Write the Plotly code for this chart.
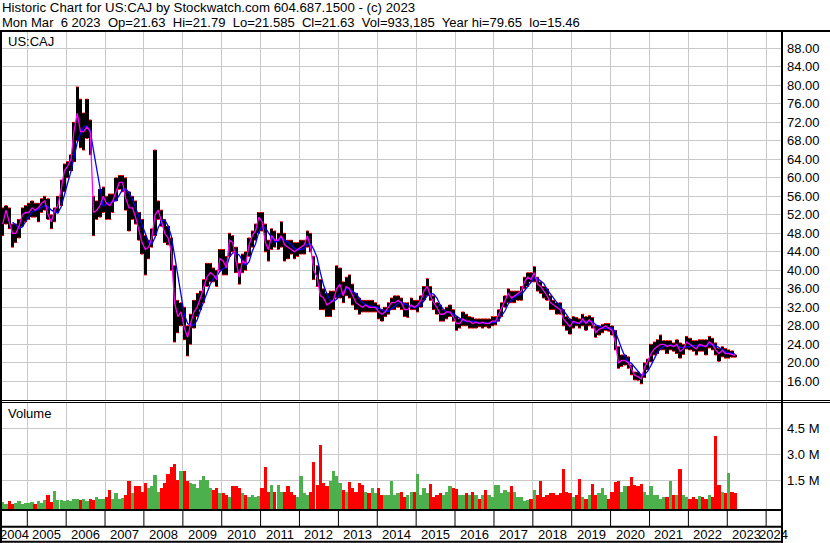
import pandas as pd
import plotly.graph_objects as go

# ---------------- data (monthly, May 2004 .. Mar 2023) ----------------
start_month = "2004-05-01"
end_month = "2023-03-01"

high = [
    53.5, 54, 53.5, 50, 50, 51, 53.5, 54,                               # 2004 May-Dec
    54.5, 55, 54.5, 54.5, 55.5, 56, 55.5, 52, 53.5, 56, 59.5, 63,        # 2005
    63.5, 65, 72, 79.65, 77, 74, 77, 72.5, 56, 55, 57.5, 58,             # 2006
    56, 56.5, 56.5, 60, 60.5, 60.5, 60, 57, 56, 55, 52.5, 51,            # 2007
    47.5, 46.5, 49, 66, 55, 53, 51, 49.5, 47, 41, 33.5, 33,              # 2008
    32, 28, 30.5, 33.5, 35, 35.5, 38, 41.5, 41.5, 40.5, 40, 44.5,        # 2009
    44.5, 43, 48, 47.5, 45, 41.5, 43.5, 44, 47, 48.5, 50, 52.5,          # 2010
    52.5, 50, 46.5, 49, 48.5, 48, 50.5, 48, 46.5, 46.5, 46, 46,          # 2011
    46.5, 46.5, 48.5, 48, 43, 41, 38, 36, 35, 35.5, 35.5, 41,            # 2012
    40.5, 37.5, 38.5, 39, 37, 35, 34, 33.5, 33.5, 33.5, 33.5, 33,        # 2013
    32.5, 31.5, 32, 33, 34, 34.5, 34.5, 34, 33, 33, 34, 33.5,            # 2014
    33.5, 34.5, 36.5, 38.2, 36.5, 34.5, 33, 32.5, 31.5, 32, 32.5, 31.5,  # 2015
    30, 29.5, 31, 30.5, 30, 29.8, 29.5, 29.5, 29.5, 29.5, 29.5, 30,      # 2016
    30, 31.5, 33, 34.5, 36, 35.5, 35.5, 35.5, 36.5, 38.5, 39.5, 39.5,    # 2017
    40.8, 38.5, 37.5, 36.5, 36, 34.5, 33.5, 33, 33, 31.5, 30, 29.5,      # 2018
    30, 29.8, 29.5, 30.5, 30, 30.2, 29.8, 28, 28, 28.3, 28.5, 28.5,      # 2019
    28, 27, 23.5, 21.7, 21.7, 21.3, 19.5, 18, 18, 17.5, 20, 20.8,        # 2020
    24, 24.5, 25, 26, 24.8, 24.8, 24.8, 24.3, 25, 24.3, 24, 25.7,        # 2021
    25.3, 24.8, 24.8, 25, 25, 25, 25.7, 25.3, 24.3, 23.1, 23.5, 23.1,    # 2022
    22.8, 22.6, 21.79,                                                   # 2023 Jan-Mar
]

low = [
    47.5, 50, 49, 45, 46, 47, 49.5, 50.5,
    51, 51.5, 51.5, 50.5, 52.5, 53, 51, 49, 50.5, 52.5, 54, 57,
    60, 61.5, 63.5, 68, 66.5, 66, 68.5, 65, 47.5, 51, 51.5, 52.5,
    51, 51, 52.5, 55, 57.5, 57, 53, 48.5, 51, 50, 46.5, 43.5,
    39, 42.5, 45, 47.5, 51, 49.5, 46, 45.5, 40, 24.5, 26.5, 28,
    25, 21.5, 24, 27.5, 30, 31.5, 33, 36.5, 37.5, 37.5, 36.5, 40,
    39, 39, 43, 44, 39.5, 37, 39.5, 40, 43, 45, 46.5, 48,
    48.5, 44, 42, 44.5, 45, 44.5, 45, 42, 42.5, 43.5, 42.5, 43,
    43.5, 43.5, 45, 44, 38, 36.5, 31.5, 31.5, 30, 30, 31.5, 34,
    34, 33, 34.5, 34, 32.5, 31.5, 30.5, 31, 31, 31, 31, 31,
    29.5, 29, 30, 30.5, 31.5, 31.5, 32, 31.5, 30, 29.8, 31.5, 31.5,
    31, 32, 33.5, 34.5, 33.5, 31.5, 30.5, 29, 29, 29.5, 30, 29,
    27, 27.5, 28, 28, 27.5, 27.5, 27.5, 27.8, 27.5, 27.8, 27.5, 28,
    28.2, 29, 30, 32, 33, 33, 33, 33.5, 33.5, 36, 36.5, 37.5,
    37.5, 35.5, 35, 34, 33.5, 31.5, 31.5, 30.5, 30.5, 28, 27, 26.2,
    27.5, 28, 27.5, 28, 27, 28, 27.5, 25.5, 26, 26.5, 27, 26.8,
    26, 22.8, 18.8, 19.2, 19.5, 18.8, 17.4, 16.3, 16.2, 15.46, 16.8, 18.5,
    20.2, 21.7, 22, 22.8, 22.8, 22, 22.8, 22.5, 22, 21, 21.8, 23,
    22.8, 22.5, 21.7, 22.5, 22.5, 21.7, 23.2, 22.8, 21.7, 20.3, 21.3, 21,
    21, 21.2, 21.2,
]

close = [
    50, 53, 50.5, 48, 48, 49.5, 52, 52.5,
    52.5, 53.5, 53, 53.5, 54.5, 55, 52, 50.5, 53, 54, 57.5, 61.5,
    62.5, 64, 70, 74, 70, 70, 71, 70, 52.5, 53, 54, 56,
    54.5, 54, 55, 57, 59, 59, 55.5, 53.5, 53.5, 51.5, 48.5, 46,
    44.5, 45, 47, 52, 53, 50.5, 48, 47, 44, 33, 30, 31,
    27.5, 25.5, 28.5, 31, 32, 34, 36, 38.5, 39.5, 39, 38, 42.5,
    42, 40.5, 46.5, 46, 42, 38.5, 42, 41.5, 45.5, 47.5, 48.5, 51.5,
    50.5, 46, 44.5, 47.5, 46.5, 46.5, 47.5, 45.5, 45, 44.5, 44, 44.5,
    45, 45.5, 47.5, 45, 40, 38.5, 34.5, 34, 32.5, 33, 33.5, 36,
    37, 34.5, 36.5, 36, 34.5, 33, 32.5, 32, 32.5, 32, 32, 32,
    31, 30.5, 31, 32, 33, 33, 33.5, 33, 31.5, 31.5, 32.5, 32,
    32.5, 33.5, 35.5, 36.5, 34.5, 33, 32, 30.5, 30.5, 31, 31, 30,
    28.5, 28.5, 29.5, 29, 29, 28.5, 28.8, 28.5, 28.8, 28.5, 28.5, 29,
    29, 30.5, 32, 33.5, 35, 34, 34.5, 35, 35.5, 37.5, 38.5, 38,
    39.5, 37, 36.5, 35.5, 34.5, 33, 32.5, 32, 31.5, 29.5, 28.5, 27.8,
    29, 28.8, 28.5, 29.5, 28.5, 29.3, 28.5, 26.5, 27.3, 27.5, 28, 27.5,
    27, 24.5, 20, 20.5, 20.5, 20, 18.5, 17.3, 17, 16.5, 19, 20.3,
    22, 23, 23.5, 24, 24, 23.5, 23.8, 23.5, 24, 22.5, 23, 24.5,
    24, 23.5, 23, 24, 23.8, 23.5, 24.5, 24, 22.8, 22, 22.7, 22,
    22, 21.8, 21.63,
]

# volume in millions, as drawn (bars rise from the panel floor)
volume_m = [
    0.4, 0.3, 0.45, 0.3, 0.35, 0.45, 0.3, 0.35,
    0.35, 0.4, 0.3, 0.45, 0.35, 0.5, 0.8, 0.4, 1.05, 0.5, 0.5, 0.45,
    0.5, 0.45, 0.55, 0.6, 0.5, 0.55, 0.45, 0.6, 0.5, 0.7, 0.55, 0.6,
    0.7, 1.1, 0.6, 0.9, 0.55, 0.65, 0.8, 1.6, 0.9, 1.35, 1.3, 1.0,
    1.5, 1.2, 1.3, 1.95, 1.0, 1.2, 1.5, 2.0, 2.45, 2.6, 1.7, 2.2,
    2.2, 1.6, 1.5, 1.45, 1.2, 1.7, 1.9, 1.7, 1.2, 1.1, 1.2, 0.9,
    0.9, 0.8, 0.7, 1.35, 1.3, 1.2, 0.9, 0.8, 0.7, 0.8, 0.7, 0.75,
    1.2, 2.4, 1.0, 1.4, 1.0, 1.4, 1.0, 1.0, 1.3, 1.0, 0.8, 0.7,
    1.9, 0.9, 0.8, 1.0, 2.7, 1.4, 3.7, 1.5, 1.3, 1.6, 2.2, 1.9,
    1.5, 1.1, 1.0, 1.55, 1.2, 1.0, 1.5, 1.4, 1.0, 0.9, 1.2, 0.9,
    1.2, 0.8, 0.8, 0.8, 1.6, 0.8, 0.9, 1.0, 0.7, 0.8, 1.0, 1.0,
    2.0, 0.8, 1.2, 0.9, 1.45, 0.7, 0.8, 0.9, 0.8, 1.0, 1.35, 1.2,
    1.15, 0.8, 0.8, 0.95, 0.8, 1.0, 0.8, 0.6, 0.8, 1.1, 0.8, 0.7,
    1.37, 1.4, 0.9, 1.1, 1.0, 1.35, 1.0, 0.7, 0.7, 0.45, 0.5, 0.6,
    1.1, 0.8, 1.6, 0.7, 0.8, 0.9, 0.9, 0.8, 0.9, 2.3, 1.0, 0.9,
    0.7, 0.8, 1.75, 0.7, 0.6, 0.8, 1.45, 0.8, 0.9, 1.2, 0.8, 0.6,
    1.0, 1.55, 1.6, 1.0, 1.3, 1.3, 1.85, 1.4, 1.3, 1.45, 1.0, 0.8,
    1.3, 0.8, 0.8, 0.6, 0.7, 0.7, 1.6, 0.8, 0.8, 2.3, 0.8, 0.7,
    0.6, 0.7, 0.6, 0.75, 0.7, 0.6, 0.8, 0.7, 4.2, 1.4, 1.0, 0.9,
    2.1, 1.0, 0.93,
]

price_ticks = [16, 20, 24, 28, 32, 36, 40, 44, 48, 52, 56, 60, 64, 68, 72, 76, 80, 84, 88]
vol_ticks = [1.5, 3.0, 4.5]
vol_tick_text = ["1.5 M", "3.0 M", "4.5 M"]
years = list(range(2004, 2025))

title_line1 = "Historic Chart for US:CAJ by Stockwatch.com 604.687.1500 - (c) 2023"
title_line2 = ("Mon Mar  6 2023  Op=21.63  Hi=21.79  Lo=21.585  Cl=21.63  "
               "Vol=933,185  Year hi=79.65  lo=15.46")
symbol = "US:CAJ"

# ---------------- derived ----------------
months = pd.date_range(start_month, end_month, freq="MS")
mid = months + pd.Timedelta(days=14)
df = pd.DataFrame({"hi": high, "lo": low, "c": close, "v": volume_m}, index=mid)
ma_fast = df["c"]
ma_slow = df["c"].rolling(4).mean()
up = df["c"].diff().fillna(0) >= 0
vol_colors = ["#4cb04c" if u else "#ff0000" for u in up]

# ---------------- geometry (pixels) ----------------
W, H = 830, 543
L, R, T, B = 2, 781, 32, 509          # plot area
PX_PER_DAY = 38.89 / 365.25
ref_day = pd.Timestamp("2005-01-01")
ref_x = 27.3
x_left = ref_day - pd.Timedelta(days=(ref_x - L) / PX_PER_DAY)
x_right = ref_day + pd.Timedelta(days=(R - ref_x) / PX_PER_DAY)

def pxx(x):
    return (x - L) / (R - L)

def pxy(y):
    return (B - y) / (B - T)

def price_at(y):
    return 16 + (381.3 - y) / 4.625

def vol_at(y):
    return (506.3 - y) / 26.0 * 1.5

vol_floor = vol_at(B)
month_ms = 30.4 * 24 * 3600 * 1000
FONT = "Arial, Liberation Sans, sans-serif"

fig = go.Figure()
fig.add_trace(go.Bar(x=df.index, y=df["hi"] - df["lo"], base=df["lo"], width=month_ms,
                     marker=dict(color="#000000", line=dict(width=0)), yaxis="y",
                     hoverinfo="skip", showlegend=False))
fig.add_trace(go.Scatter(x=list(df.index) * 2, y=list(df["hi"]) + list(df["lo"]), mode="markers",
                         marker=dict(symbol="line-ew", size=2, line=dict(color="#ff0000", width=1)),
                         yaxis="y", hoverinfo="skip", showlegend=False))
fig.add_trace(go.Scatter(x=df.index, y=ma_slow, mode="lines", line=dict(color="#0000ff", width=1.3),
                         yaxis="y", hoverinfo="skip", showlegend=False))
fig.add_trace(go.Scatter(x=df.index, y=ma_fast, mode="lines", line=dict(color="#ff00ff", width=1.3),
                         yaxis="y", hoverinfo="skip", showlegend=False))
fig.add_trace(go.Bar(x=df.index, y=df["v"], base=vol_floor, width=month_ms,
                     marker=dict(color=vol_colors, line=dict(width=0)), yaxis="y2",
                     hoverinfo="skip", showlegend=False))

grid = "#c8c8c8"
fig.update_layout(
    width=W, height=H, margin=dict(l=L, r=W - R, t=T, b=H - B),
    paper_bgcolor="white", plot_bgcolor="white", barmode="overlay", bargap=0,
    font=dict(family=FONT, size=13, color="#000000"),
    xaxis=dict(type="date", range=[x_left, x_right], showgrid=True, gridcolor=grid, gridwidth=1,
               tick0="2005-01-01", dtick="M12", showticklabels=False, ticks="", zeroline=False,
               showline=False, anchor="y2"),
    yaxis=dict(domain=[pxy(400), 1], range=[price_at(400), price_at(32)], side="right",
               tickvals=price_ticks, tickformat=".2f", showgrid=True, gridcolor=grid, gridwidth=1,
               ticks="", zeroline=False, showline=False, ticklabelstandoff=5,
               tickfont=dict(size=13)),
    yaxis2=dict(domain=[0, pxy(402)], range=[vol_floor, vol_at(402)], side="right",
                tickvals=vol_ticks, ticktext=vol_tick_text, showgrid=True, gridcolor=grid,
                gridwidth=1, ticks="", zeroline=False, showline=False, ticklabelstandoff=5,
                tickfont=dict(size=13)),
)

shapes = []
def hline(y, x0, x1, w=2):
    shapes.append(dict(type="line", xref="paper", yref="paper", x0=pxx(x0), x1=pxx(x1),
                       y0=pxy(y), y1=pxy(y), line=dict(color="black", width=w)))
def vline(x, y0, y1, w=2):
    shapes.append(dict(type="line", xref="paper", yref="paper", x0=pxx(x), x1=pxx(x),
                       y0=pxy(y0), y1=pxy(y1), line=dict(color="black", width=w)))

hline(31, 0, W, 2)
hline(400.5, 0, W, 1)
hline(402.5, 0, W, 1)
hline(510, 0, R + 1, 2)
hline(526.8, 0, R + 1, 2)
hline(541.8, 0, R + 1, 2)
vline(1, 30, H, 2)
vline(R + 1, 30, H, 2)
for yr in years[1:]:
    shapes.append(dict(type="line", xref="x", yref="paper", x0=f"{yr}-01-01", x1=f"{yr}-01-01",
                       y0=pxy(510), y1=pxy(526.5), line=dict(color="black", width=1)))
fig.update_layout(shapes=shapes)

ann = []
ann.append(dict(text=title_line1.replace("  ", "\u00a0 "), xref="paper", yref="paper",
                x=pxx(0), y=pxy(7.5), xanchor="left", yanchor="middle", showarrow=False,
                font=dict(size=13.25)))
ann.append(dict(text=title_line2.replace("  ", "\u00a0 "), xref="paper", yref="paper",
                x=pxx(0), y=pxy(22.5), xanchor="left", yanchor="middle", showarrow=False,
                font=dict(size=13.05)))
ann.append(dict(text=symbol, xref="paper", yref="paper", x=pxx(6), y=pxy(41),
                xanchor="left", yanchor="middle", showarrow=False, font=dict(size=13)))
ann.append(dict(text="Volume", xref="paper", yref="paper", x=pxx(6), y=pxy(413),
                xanchor="left", yanchor="middle", showarrow=False, font=dict(size=13)))
for yr in years:
    a = max(pd.Timestamp(f"{yr}-01-01"), x_left)
    b = min(pd.Timestamp(f"{yr + 1}-01-01"), x_right)
    c = a + (b - a) / 2
    ann.append(dict(text=str(yr), xref="x", yref="paper", x=c, y=pxy(534.5),
                    xanchor="center", yanchor="middle", showarrow=False, font=dict(size=13)))
fig.update_layout(annotations=ann)

fig.write_html("out.html", config={"displayModeBar": False},
               post_script="document.body.style.margin='0px';document.body.style.overflow='hidden';")
